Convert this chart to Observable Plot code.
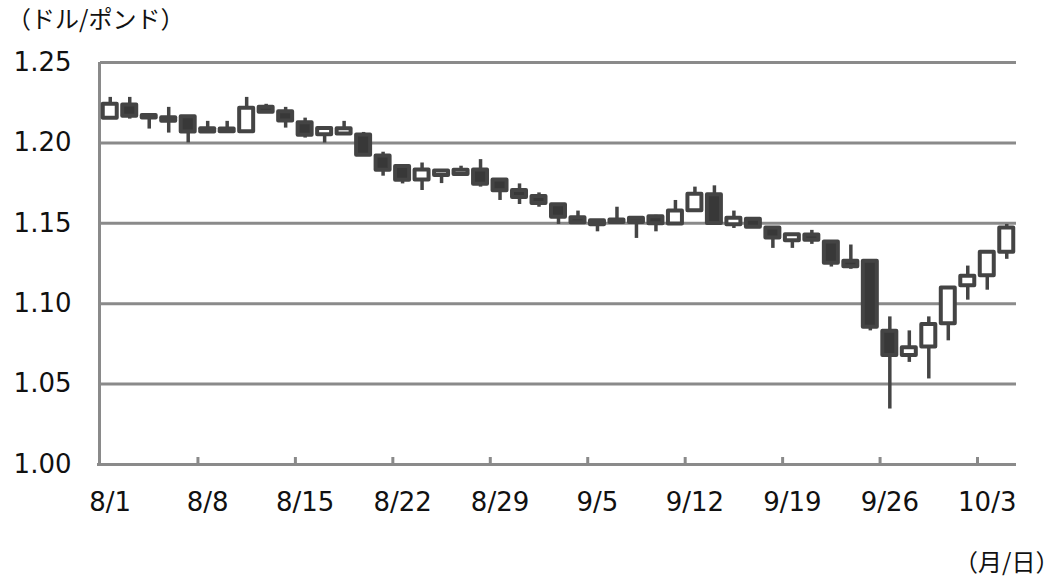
<!DOCTYPE html>
<html><head><meta charset="utf-8">
<script src="https://cdn.jsdelivr.net/npm/d3@7"></script>
<script src="https://cdn.jsdelivr.net/npm/@observablehq/plot@0.6"></script>
<style>
html,body{margin:0;padding:0;background:#fff;}
#wrap{position:relative;width:1059px;height:584px;overflow:hidden;}
#title{position:absolute;left:7px;top:4px;font-size:24px;font-family:"Noto Sans CJK JP",sans-serif;color:#111;line-height:1.15;white-space:nowrap;}
#unit{position:absolute;left:954px;top:547px;font-size:24px;font-family:"Noto Sans CJK JP",sans-serif;color:#111;line-height:1.15;white-space:nowrap;}
#chart{position:absolute;left:0;top:0;}
</style></head>
<body><div id="wrap"><div id="chart"></div><div id="title">（ドル/ポンド）</div><div id="unit">（月/日）</div></div>
<script>
const dates = ["8/1","8/2","8/3","8/4","8/5","8/8","8/9","8/10","8/11","8/12",
  "8/15","8/16","8/17","8/18","8/19","8/22","8/23","8/24","8/25","8/26",
  "8/29","8/30","8/31","9/1","9/2","9/5","9/6","9/7","9/8","9/9",
  "9/12","9/13","9/14","9/15","9/16","9/19","9/20","9/21","9/22","9/23",
  "9/26","9/27","9/28","9/29","9/30","10/3","10/4"];
const open  = [1.2153,1.2236,1.2170,1.2157,1.2163,1.2088,1.2086,1.2070,1.2221,1.2194,
  1.2126,1.2050,1.2055,1.2049,1.1919,1.1853,1.1770,1.1797,1.1803,1.1832,
  1.1770,1.1704,1.1667,1.1615,1.1534,1.1516,1.1520,1.1532,1.1540,1.1495,
  1.1578,1.1677,1.1491,1.1525,1.1470,1.1391,1.1428,1.1383,1.1264,1.1264,
  1.0829,1.0678,1.0730,1.0875,1.1112,1.1174,1.1320];
const high  = [1.2283,1.2283,1.2180,1.2221,1.2165,1.2134,1.2134,1.2283,1.2240,1.2221,
  1.2154,1.2092,1.2134,1.2065,1.1942,1.1855,1.1875,1.1830,1.1855,1.1896,
  1.1775,1.1745,1.1689,1.1620,1.1576,1.1518,1.1600,1.1535,1.1550,1.1642,
  1.1725,1.1733,1.1576,1.1530,1.1472,1.1432,1.1456,1.1385,1.1365,1.1272,
  1.0918,1.0831,1.0918,1.1100,1.1234,1.1322,1.1493];
const low   = [1.2150,1.2148,1.2086,1.2061,1.2000,1.2062,1.2065,1.2068,1.2185,1.2092,
  1.2030,1.1999,1.2050,1.1920,1.1793,1.1745,1.1704,1.1747,1.1800,1.1725,
  1.1642,1.1617,1.1600,1.1493,1.1495,1.1447,1.1500,1.1406,1.1447,1.1493,
  1.1575,1.1497,1.1468,1.1470,1.1344,1.1344,1.1369,1.1228,1.1214,1.0831,
  1.0345,1.0635,1.0532,1.0769,1.1022,1.1084,1.1276];
const close = [1.2241,1.2165,1.2155,1.2135,1.2068,1.2068,1.2070,1.2215,1.2190,1.2136,
  1.2047,1.2090,1.2088,1.1923,1.1830,1.1768,1.1832,1.1826,1.1830,1.1743,
  1.1702,1.1661,1.1623,1.1537,1.1503,1.1491,1.1505,1.1505,1.1497,1.1577,
  1.1681,1.1499,1.1532,1.1475,1.1408,1.1429,1.1395,1.1251,1.1230,1.0854,
  1.0678,1.0726,1.0870,1.1098,1.1171,1.1320,1.1470];
const yTicks = [1.00,1.05,1.10,1.15,1.20,1.25];
const xTickLabels = ["8/1","8/8","8/15","8/22","8/29","9/5","9/12","9/19","9/26","10/3"];

const data = dates.map((d,i)=>({date:d, open:open[i], high:high[i], low:low[i], close:close[i]}));
const up = data.filter(d=>d.close>=d.open);
const down = data.filter(d=>d.close<d.open);

const W=1059, H=584, mL=100, mR=43, mT=62, mB=120;
const bw = (W-mL-mR)/dates.length;
const gray="#8a8a8a", ink="#444444";
const font = "'DejaVu Sans','Noto Sans CJK JP',sans-serif";

const chart = Plot.plot({
  width:W, height:H, marginLeft:mL, marginRight:mR, marginTop:mT, marginBottom:mB,
  style:{fontFamily:font, fontSize:"26px", color:"#111", background:"transparent"},
  x:{type:"band", domain:dates, padding:0, align:0.5, round:false},
  y:{domain:[1.0,1.25]},
  marks:[
    Plot.gridY(yTicks.slice(1), {stroke:gray, strokeOpacity:1, strokeWidth:3}),
    Plot.ruleY([1.0], {stroke:gray, strokeWidth:3, insetLeft:-3}),
    Plot.ruleX([dates[0]], {dx:-bw/2 - 1, stroke:gray, strokeWidth:3, insetBottom:-1.5}),
    Plot.ruleX(xTickLabels.slice(1), {dx:-bw/2, stroke:gray, strokeWidth:3, insetTop:H-mT-mB-7}),
    Plot.axisY(yTicks, {tickSize:0, tickPadding:29, tickFormat:d3.format(".2f"), fontSize:26}),
    Plot.axisX(xTickLabels, {tickSize:0, tickPadding:28, fontSize:26, label:null}),
    Plot.ruleX(data, {x:"date", y1:"low", y2:"high", stroke:ink, strokeWidth:3.5}),
    Plot.barY(up, {x:"date", y1:"open", y2:"close", fill:"white", stroke:ink, strokeWidth:4, strokeLinejoin:"round", insetLeft:2.75, insetRight:2.75}),
    Plot.barY(down, {x:"date", y1:"open", y2:"close", fill:"#383838", stroke:ink, strokeWidth:4, strokeLinejoin:"round", insetLeft:2.75, insetRight:2.75})
  ]
});
document.getElementById("chart").appendChild(chart);
</script>
</body></html>
